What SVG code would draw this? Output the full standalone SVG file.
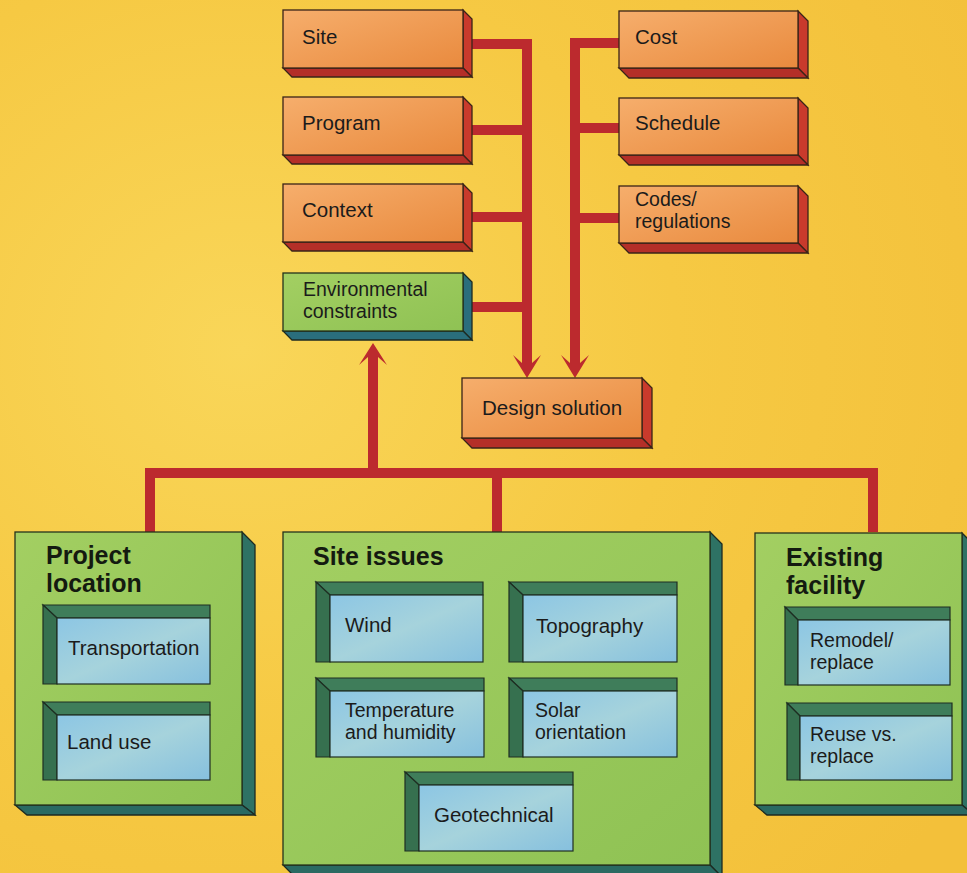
<svg xmlns="http://www.w3.org/2000/svg" width="967" height="873" viewBox="0 0 967 873">
<defs>
<radialGradient id="bg" cx="0.25" cy="0.4" r="0.9">
<stop offset="0" stop-color="#F9D659"/>
<stop offset="0.5" stop-color="#F6C943"/>
<stop offset="1" stop-color="#F3C03A"/>
</radialGradient>
<linearGradient id="orF" x1="0" y1="0" x2="1" y2="1">
<stop offset="0" stop-color="#F6AE6C"/>
<stop offset="1" stop-color="#E98A3E"/>
</linearGradient>
<linearGradient id="grF" x1="0" y1="0" x2="1" y2="1">
<stop offset="0" stop-color="#A3CF62"/>
<stop offset="1" stop-color="#8FC254"/>
</linearGradient>
<linearGradient id="blF" x1="0" y1="0" x2="1" y2="1">
<stop offset="0" stop-color="#8CC6E4"/>
<stop offset="0.5" stop-color="#A6D3DC"/>
<stop offset="1" stop-color="#86C0DE"/>
</linearGradient>
<style>
.of{fill:url(#orF);stroke:#3a2418;stroke-width:1.3}
.os{fill:#C93A2C;stroke:#3a2418;stroke-width:1.3}
.ob{fill:#B42F28;stroke:#3a2418;stroke-width:1.3}
.gf{fill:url(#grF);stroke:#26331c;stroke-width:1.3}
.gs{fill:#2E7264;stroke:#1d2a22;stroke-width:1.3}
.gb{fill:#2A6A62;stroke:#1d2a22;stroke-width:1.3}
.es{fill:#2A6E7C;stroke:#1d2a22;stroke-width:1.3}
.bt{fill:#3F7D5A;stroke:#1e2e22;stroke-width:1.2}
.bl{fill:#36704F;stroke:#1e2e22;stroke-width:1.2}
.bf{fill:url(#blF);stroke:#1e2e22;stroke-width:1.2}
.t{font-family:"Liberation Sans",Arial,sans-serif;font-size:20.5px;fill:#1b1b1b}
.t2{font-family:"Liberation Sans",Arial,sans-serif;font-size:19.5px;fill:#1b1b1b}
.h{font-family:"Liberation Sans",Arial,sans-serif;font-size:25px;font-weight:bold;fill:#141a10}
.c{fill:none;stroke:#BC2A2E;stroke-width:10;stroke-linejoin:miter}
.a{fill:#BC2A2E}
</style>
</defs>
<rect width="967" height="873" fill="url(#bg)"/>

<g id="connectors">
<path class="c" d="M472,44 H527 V363 M472,130 H527 M472,217 H527 M472,307 H527"/>
<polygon class="a" points="513,355 527,378 541,355 532,363 522,363"/>
<path class="c" d="M619,43 H575 V363 M619,128 H575 M619,218 H575"/>
<polygon class="a" points="561,355 575,378 589,355 580,363 570,363"/>
<path class="c" d="M150,532 V473 H873 V532 M497,473 V532 M373,473 V357"/>
<polygon class="a" points="359,365 373,343 387,365 378,357 368,357"/>
</g>

<g id="site">
<polygon class="os" points="463,10 472,19 472,77 463,68"/>
<polygon class="ob" points="283,68 463,68 472,77 292,77"/>
<rect class="of" x="283" y="10" width="180" height="58"/>
<text class="t" x="302" y="44">Site</text>
</g>
<g id="program">
<polygon class="os" points="463,97 472,106 472,164 463,155"/>
<polygon class="ob" points="283,155 463,155 472,164 292,164"/>
<rect class="of" x="283" y="97" width="180" height="58"/>
<text class="t" x="302" y="130">Program</text>
</g>
<g id="context">
<polygon class="os" points="463,184 472,193 472,251 463,242"/>
<polygon class="ob" points="283,242 463,242 472,251 292,251"/>
<rect class="of" x="283" y="184" width="180" height="58"/>
<text class="t" x="302" y="217">Context</text>
</g>
<g id="environmental">
<polygon class="es" points="463,273 472,282 472,340 463,331"/>
<polygon class="es" points="283,331 463,331 472,340 292,340"/>
<rect class="gf" x="283" y="273" width="180" height="58"/>
<text class="t2" x="303" y="296">Environmental</text>
<text class="t2" x="303" y="318">constraints</text>
</g>
<g id="cost">
<polygon class="os" points="798,11 808,21 808,78 798,68"/>
<polygon class="ob" points="619,68 798,68 808,78 629,78"/>
<rect class="of" x="619" y="11" width="179" height="57"/>
<text class="t" x="635" y="44">Cost</text>
</g>
<g id="schedule">
<polygon class="os" points="798,98 808,108 808,165 798,155"/>
<polygon class="ob" points="619,155 798,155 808,165 629,165"/>
<rect class="of" x="619" y="98" width="179" height="57"/>
<text class="t" x="635" y="130">Schedule</text>
</g>
<g id="codes">
<polygon class="os" points="798,186 808,196 808,253 798,243"/>
<polygon class="ob" points="619,243 798,243 808,253 629,253"/>
<rect class="of" x="619" y="186" width="179" height="57"/>
<text class="t2" x="635" y="206">Codes/</text>
<text class="t2" x="635" y="228">regulations</text>
</g>
<g id="design">
<polygon class="os" points="642,378 652,388 652,448 642,438"/>
<polygon class="ob" points="462,438 642,438 652,448 472,448"/>
<rect class="of" x="462" y="378" width="180" height="60"/>
<text class="t" x="482" y="415">Design solution</text>
</g>

<g id="project-location">
<polygon class="gs" points="242,532 255,545 255,815 242,805"/>
<polygon class="gb" points="15,805 242,805 255,815 27,815"/>
<rect class="gf" x="15" y="532" width="227" height="273"/>
<text class="h" x="46" y="564">Project</text>
<text class="h" x="46" y="592">location</text>
</g>
<g id="transportation">
<polygon class="bt" points="43,605 210,605 210,618 57,618"/>
<polygon class="bl" points="43,605 57,618 57,684 43,684"/>
<rect class="bf" x="57" y="618" width="153" height="66"/>
<text class="t" x="68" y="655">Transportation</text>
</g>
<g id="land-use">
<polygon class="bt" points="43,702 210,702 210,715 57,715"/>
<polygon class="bl" points="43,702 57,715 57,780 43,780"/>
<rect class="bf" x="57" y="715" width="153" height="65"/>
<text class="t" x="67" y="749">Land use</text>
</g>

<g id="site-issues">
<polygon class="gs" points="710,532 722,544 722,877 710,865"/>
<polygon class="gb" points="283,865 710,865 722,877 295,877"/>
<rect class="gf" x="283" y="532" width="427" height="333"/>
<text class="h" x="313" y="565">Site issues</text>
</g>
<g id="wind">
<polygon class="bt" points="316,582 483,582 483,595 330,595"/>
<polygon class="bl" points="316,582 330,595 330,662 316,662"/>
<rect class="bf" x="330" y="595" width="153" height="67"/>
<text class="t" x="345" y="632">Wind</text>
</g>
<g id="topography">
<polygon class="bt" points="509,582 677,582 677,595 523,595"/>
<polygon class="bl" points="509,582 523,595 523,662 509,662"/>
<rect class="bf" x="523" y="595" width="154" height="67"/>
<text class="t" x="536" y="633">Topography</text>
</g>
<g id="temperature">
<polygon class="bt" points="316,678 484,678 484,691 330,691"/>
<polygon class="bl" points="316,678 330,691 330,757 316,757"/>
<rect class="bf" x="330" y="691" width="154" height="66"/>
<text class="t2" x="345" y="717">Temperature</text>
<text class="t2" x="345" y="739">and humidity</text>
</g>
<g id="solar">
<polygon class="bt" points="509,678 677,678 677,691 523,691"/>
<polygon class="bl" points="509,678 523,691 523,757 509,757"/>
<rect class="bf" x="523" y="691" width="154" height="66"/>
<text class="t2" x="535" y="717">Solar</text>
<text class="t2" x="535" y="739">orientation</text>
</g>
<g id="geotechnical">
<polygon class="bt" points="405,772 573,772 573,785 419,785"/>
<polygon class="bl" points="405,772 419,785 419,851 405,851"/>
<rect class="bf" x="419" y="785" width="154" height="66"/>
<text class="t" x="434" y="822">Geotechnical</text>
</g>

<g id="existing-facility">
<polygon class="gs" points="962,533 974,545 974,815 962,805"/>
<polygon class="gb" points="755,805 962,805 974,815 767,815"/>
<rect class="gf" x="755" y="533" width="207" height="272"/>
<text class="h" x="786" y="566">Existing</text>
<text class="h" x="786" y="594">facility</text>
</g>
<g id="remodel">
<polygon class="bt" points="785,607 950,607 950,620 798,620"/>
<polygon class="bl" points="785,607 798,620 798,685 785,685"/>
<rect class="bf" x="798" y="620" width="152" height="65"/>
<text class="t2" x="810" y="647">Remodel/</text>
<text class="t2" x="810" y="669">replace</text>
</g>
<g id="reuse">
<polygon class="bt" points="787,703 952,703 952,716 800,716"/>
<polygon class="bl" points="787,703 800,716 800,780 787,780"/>
<rect class="bf" x="800" y="716" width="152" height="64"/>
<text class="t2" x="810" y="741">Reuse vs.</text>
<text class="t2" x="810" y="763">replace</text>
</g>
</svg>
